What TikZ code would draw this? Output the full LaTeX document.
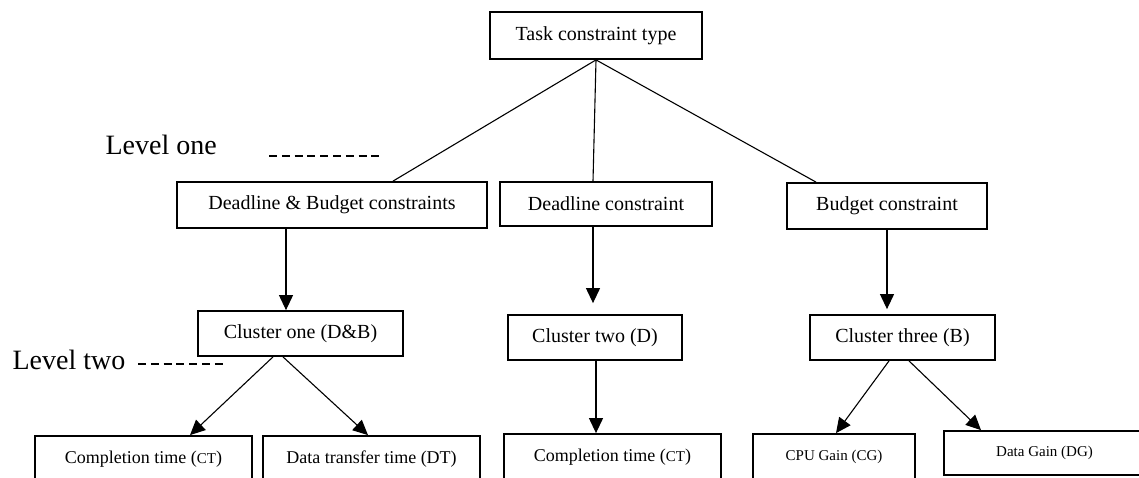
\documentclass[tikz,border=0pt]{standalone}
\usepackage{fontspec}
\setmainfont{Liberation Serif}
\usetikzlibrary{arrows.meta}

\begin{document}
\begin{tikzpicture}[-,>={Triangle[length=7.5pt,width=7pt]},x=0.5pt,y=-0.5pt,
                    line width=0.55pt]
    \tikzset{box/.style={draw,line width=0.9pt,inner sep=0pt,
                         font=\fontsize{10}{12}\selectfont},
             small box/.style={box,minimum width=108.5pt,minimum height=23pt,
                               font=\fontsize{9}{11}\selectfont},
             tiny box/.style={box,minimum height=22pt,
                              font=\fontsize{7.5}{9}\selectfont},
             level/.style={anchor=base west,inner sep=0pt,
                           font=\fontsize{14}{16}\selectfont},
             level line/.style={dash pattern=on 4pt off 2.4pt,line width=0.6pt}}
    \newcommand{\abbr}[1]{{\fontsize{7.5}{9}\selectfont #1}}
    \useasboundingbox (0,0) rectangle (1139,477);
    \clip (0,0) rectangle (1139,477);
    % root and level one
    \node[box,minimum width=106pt,minimum height=23.5pt] (0) at (596,35.5) {Task constraint type};
    \node[box,minimum width=155pt,minimum height=23pt] (1) at (332,205) {Deadline \& Budget constraints};
    \node[box,minimum width=106pt,minimum height=22pt] (2) at (606,204) {Deadline constraint};
    \node[box,minimum width=100pt,minimum height=23pt] (3) at (887,206) {Budget constraint};
    % level two
    \node[box,minimum width=102.5pt,minimum height=22.5pt] (4) at (300.5,333.5) {Cluster one (D\&B)};
    \node[box,minimum width=87pt,minimum height=22.5pt] (5) at (595,337.5) {Cluster two (D)};
    \node[box,minimum width=92.5pt,minimum height=22.5pt] (6) at (902.5,337.5) {Cluster three (B)};
    % criteria
    \node[small box] (7) at (143.5,459) {Completion time (\abbr{CT})};
    \node[small box] (8) at (371.5,459) {Data transfer time (DT)};
    \node[small box] (9) at (612.5,457) {Completion time (\abbr{CT})};
    \node[tiny box,minimum width=81pt,minimum height=23pt] (10) at (834,457) {CPU Gain (CG)};
    \node[tiny box,minimum width=100.5pt] (11) at (1044.5,453) {Data Gain (DG)};
    % levels
    \node[level] (l1) at (105,154) {Level one};
    \node[level] (l2) at (12,369) {Level two};
    \coordinate (l1a) at (269,156);
    \coordinate (l1b) at (383,156);
    \coordinate (l2a) at (138,364);
    \coordinate (l2b) at (225,364);
    \draw[level line] (l1a) -- (l1b);
    \draw[level line] (l2a) -- (l2b);
    \path
    (0.south) edge ([xshift=30.5pt]1.north)
    (0.south) edge ([xshift=-6.5pt]2.north)
    (0.south) edge ([xshift=-35.5pt]3.north)
    ([xshift=-23pt]1.south) edge[->] ([xshift=-7.25pt]4.north)
    ([xshift=-6.5pt]2.south) edge[->,shorten >=5.5pt] ([xshift=-1pt]5.north)
    (3.south) edge[->,shorten >=2.5pt] ([xshift=-7.75pt]6.north)
    ([xshift=-13.75pt]4.south) edge[->] ([xshift=23.25pt]7.north)
    ([xshift=-8.75pt]4.south) edge[->] ([xshift=-1.75pt]8.north)
    ([xshift=0.5pt]5.south) edge[->] ([xshift=-8.25pt]9.north)
    ([xshift=-6.75pt]6.south) edge[->] ([xshift=1pt]10.north)
    ([xshift=3.25pt]6.south) edge[->] ([xshift=-31.75pt]11.north);
\end{tikzpicture}
\end{document}
